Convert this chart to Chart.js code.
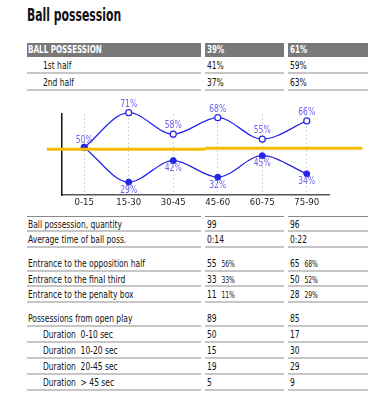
<!DOCTYPE html>
<html>
<head>
<meta charset="utf-8">
<script src="https://cdn.jsdelivr.net/npm/chart.js@4.4.1/dist/chart.umd.min.js"></script>
<style>
  html, body { margin:0; padding:0; background:#fff; }
  body { width:382px; height:402px; position:relative; overflow:hidden;
         font-family:"DejaVu Sans Condensed","DejaVu Sans",sans-serif; color:#111; }
  #title { position:absolute; left:27px; top:5px; font-size:17px; font-weight:bold; color:#111;
           transform:scaleX(0.71); transform-origin:left center; white-space:nowrap; }
  .cell { position:absolute; box-sizing:border-box; font-size:10px; white-space:pre; overflow:visible; }
  .cell > span.t { display:inline-block; transform:scaleX(0.84); transform-origin:left center; }
  .sep { border-bottom:2px solid #c6c6c6; }
  .hdr { background:#797979; color:#fff; font-weight:bold; }
  .hdr > span.t { transform:scaleX(0.8); }
  .small { font-size:8px; }
  #chartBox { position:absolute; left:0; top:95px; width:382px; height:120px; }
</style>
</head>
<body>
<div id="title">Ball possession</div>
<div id="tables"></div>
<div id="chartBox"><canvas id="c"></canvas></div>
<script>
// ---- data ----
const categories = ['0-15','15-30','30-45','45-60','60-75','75-90'];
const upperSeries = [50, 71, 58, 68, 55, 66];
const lowerSeries = [50, 29, 42, 32, 45, 34];
const refLineValues = [48.9, 49.5];

const headerRow = ['BALL POSSESSION', '39%', '61%'];
const halfRows = [['1st half', '41%', '59%'], ['2nd half', '37%', '63%']];
const quantityRows = [['Ball possession, quantity', '99', '96'], ['Average time of ball poss.', '0:14', '0:22']];
const entranceRows = [
  ['Entrance to the opposition half', '55', '56%', '65', '68%'],
  ['Entrance to the final third', '33', '33%', '50', '52%'],
  ['Entrance to the penalty box', '11', '11%', '28', '29%']
];
const openPlayRows = [
  ['Possessions from open play', '89', '85'],
  ['Duration  0-10 sec', '50', '17'],
  ['Duration  10-20 sec', '15', '30'],
  ['Duration  20-45 sec', '19', '29'],
  ['Duration  > 45 sec', '5', '9']
];

// ---- tables ----
const cols = [[27, 174], [205, 79], [288, 80]];
const T = document.getElementById('tables');
function cell(x, y, w, h, html, cls, style) {
  const d = document.createElement('div');
  d.className = 'cell ' + (cls || '');
  d.style.left = x + 'px'; d.style.top = y + 'px';
  d.style.width = w + 'px'; d.style.height = h + 'px';
  d.style.lineHeight = h + 'px';
  if (style) Object.assign(d.style, style);
  d.innerHTML = '<span class="t">' + html + '</span>';
  T.appendChild(d);
  return d;
}
function esc(s){ return String(s).replace(/&/g,'&amp;').replace(/</g,'&lt;').replace(/>/g,'&gt;'); }
function row(y, h, texts, opts) {
  opts = opts || {};
  texts.forEach((t, i) => {
    const [x, w] = cols[i];
    const pad = (i === 0 ? (opts.indent || 1) : 2);
    const st = { paddingLeft: pad + 'px' };
    if (opts.topBorder) st.borderTop = '1px solid #8a8a8a';
    cell(x, y, w, h, t, opts.cls || 'sep', st);
  });
}
// top table
row(43, 14, headerRow.map(esc), { cls: 'hdr', indent: 1 });
row(57, 17, halfRows[0].map(esc), { indent: 16 });
row(74, 17, halfRows[1].map(esc), { indent: 16 });
// quantity table
row(216, 16, quantityRows[0].map(esc), { topBorder: true });
row(232, 16, quantityRows[1].map(esc));
// entrance table
entranceRows.forEach((r, i) => {
  const v1 = esc(r[1]) + '  <span class="small">' + esc(r[2]) + '</span>';
  const v2 = esc(r[3]) + '  <span class="small">' + esc(r[4]) + '</span>';
  row(256 + i * 15.7, 15.7, [esc(r[0]), v1, v2]);
});
// open play table
openPlayRows.forEach((r, i) => {
  row(311 + i * 16, 16, r.map(esc), { indent: i === 0 ? 1 : 16 });
});

// ---- chart ----
const labelColor = '#6c5ef2';
const lineBlue = '#2626e6';
const chartFont = '"DejaVu Sans Condensed","DejaVu Sans",sans-serif';

const refLinePlugin = {
  id: 'refLine',
  afterDatasetsDraw(chart) {
    const { ctx, scales: { x, y } } = chart;
    const segs = [[-0.84, 2.72, refLineValues[0]], [2.72, 6.25, refLineValues[1]]];
    ctx.save();
    ctx.strokeStyle = '#f6bd00';
    ctx.lineWidth = 3;
    segs.forEach(([a, b, v]) => {
      const py = y.getPixelForValue(v);
      ctx.beginPath();
      ctx.moveTo(x.getPixelForValue(a), py);
      ctx.lineTo(x.getPixelForValue(b), py);
      ctx.stroke();
    });
    ctx.restore();
  }
};
const labelPlugin = {
  id: 'pointLabels',
  afterDraw(chart) {
    const { ctx } = chart;
    ctx.save();
    ctx.font = '10px ' + chartFont;
    ctx.fillStyle = labelColor;
    ctx.textAlign = 'center';
    ctx.textBaseline = 'middle';
    chart.data.datasets.forEach((ds, di) => {
      const meta = chart.getDatasetMeta(di);
      meta.data.forEach((pt, i) => {
        if (di === 1 && i === 0) return;
        const dy = di === 0 ? (i === 0 ? -7 : -8.5) : 8;
        ctx.save();
        ctx.translate(pt.x, pt.y + dy);
        ctx.scale(0.85, 1);
        ctx.fillText(ds.data[i] + '%', 0, 0);
        ctx.restore();
      });
    });
    ctx.restore();
  }
};

new Chart(document.getElementById('c'), {
  type: 'line',
  data: {
    labels: categories,
    datasets: [
      { data: upperSeries, order: 1, borderColor: lineBlue, borderWidth: 1.3, cubicInterpolationMode: 'monotone',
        pointRadius: 3, pointBorderWidth: 1.2, pointBackgroundColor: '#fff', pointBorderColor: lineBlue, clip: false },
      { data: lowerSeries, order: 0, borderColor: lineBlue, borderWidth: 1.3, cubicInterpolationMode: 'monotone',
        pointRadius: 3, pointBorderWidth: 1, pointBackgroundColor: lineBlue, pointBorderColor: lineBlue, clip: false }
    ]
  },
  options: {
    responsive: true,
    maintainAspectRatio: false,
    animation: false,
    layout: { padding: { left: 62, right: 53, top: 19, bottom: 0 } },
    plugins: { legend: { display: false }, tooltip: { enabled: false } },
    scales: {
      x: {
        offset: true,
        grid: { display: true, offset: false, drawTicks: false, color: '#d4d4d4', lineWidth: 1 },
        border: { display: true, color: '#555', width: 1.5, dash: [2, 2] },
        ticks: { padding: 2, color: '#222', font: { size: 9.5, family: chartFont }, maxRotation: 0, autoSkip: false },
        afterFit(s) { s.height = 20; }
      },
      y: {
        min: 21.2, max: 70.2,
        grid: { display: false, drawTicks: false },
        border: { display: true, color: '#111', width: 1.5 },
        ticks: { display: false },
        afterFit(s) { s.width = 0; }
      }
    }
  },
  plugins: [refLinePlugin, labelPlugin]
});
</script>
</body>
</html>
